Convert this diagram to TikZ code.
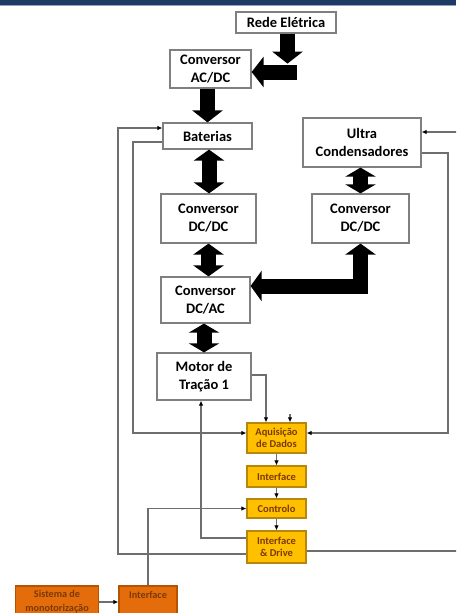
\documentclass[tikz,border=0pt]{standalone}
\usepackage{fontspec}
\setmainfont{Carlito}
\usetikzlibrary{arrows.meta}
\definecolor{band}{HTML}{1F3B63}
\definecolor{bandl}{HTML}{8CA3C4}
\definecolor{boxline}{HTML}{7F7F7F}
\definecolor{yfill}{HTML}{FFC000}
\definecolor{yline}{HTML}{B8860B}
\definecolor{ofill}{HTML}{E46C0A}
\definecolor{oline}{HTML}{B35400}
\definecolor{otext}{HTML}{7A3A05}
\definecolor{sigline}{HTML}{6E6E6E}
\begin{document}
\begin{tikzpicture}[x=1pt,y=-1pt,
  mbox/.style={draw=boxline, line width=1.2pt, fill=white, align=center,
    font=\bfseries\fontsize{14.5}{18}\selectfont, inner sep=0pt},
  ybox/.style={draw=yline, line width=1.2pt, fill=yfill, text=otext, align=center,
    font=\bfseries\fontsize{10.5}{12.5}\selectfont, inner sep=0pt, minimum width=59pt},
  obox/.style={draw=oline, line width=1.2pt, fill=ofill, text=otext, align=center,
    font=\bfseries\fontsize{10.2}{13.5}\selectfont, inner sep=0pt},
  big/.style={line width=15pt, -{Triangle[width=30pt,length=12pt]}},
  bigb/.style={line width=15pt, line join=miter,
    {Triangle[width=30pt,length=11pt]}-{Triangle[width=30pt,length=11pt]}},
  bigs/.style={line width=15pt,
    {Triangle[width=30pt,length=9pt]}-{Triangle[width=30pt,length=9pt]}},
  sig/.style={draw=sigline, line width=1.3pt, -{Latex[length=5pt,width=4.5pt,color=black]}}
]
\useasboundingbox (0,0) rectangle (456,613);
\clip (0,0) rectangle (456,613);
\fill[white] (0,0) rectangle (456,613);
\fill[band] (0,0) rectangle (456,4.5);
\fill[bandl] (0,4.5) rectangle (456,5.5);

% main boxes
\node[mbox, minimum width=100pt, minimum height=21pt] (rede) at (286,22.5) {Rede Elétrica};
\node[mbox, minimum width=81pt, minimum height=38pt] (acdc) at (210.5,69) {Conversor\\AC/DC};
\node[mbox, minimum width=89pt, minimum height=26pt] (bat) at (207.5,136) {Baterias};
\node[mbox, minimum width=118pt, minimum height=49pt] (ultra) at (362,142.5) {Ultra\\Condensadores};
\node[mbox, minimum width=95pt, minimum height=49pt] (dcdcl) at (208.5,218.5) {Conversor\\DC/DC};
\node[mbox, minimum width=97pt, minimum height=49pt] (dcdcr) at (360.5,218.5) {Conversor\\DC/DC};
\node[mbox, minimum width=89pt, minimum height=46pt] (dcac) at (205.5,300) {Conversor\\DC/AC};
\node[mbox, minimum width=94pt, minimum height=47pt] (motor) at (204,376.5) {Motor de\\Tração 1};

% control boxes
\node[ybox, minimum height=30pt] (aq) at (276.5,438) {Aquisição\\de Dados};
\node[ybox, minimum height=21pt] (intf) at (276.5,476.5) {Interface};
\node[ybox, minimum height=19pt] (ctrl) at (276.5,508.5) {Controlo};
\node[ybox, minimum height=32pt] (idrive) at (276.5,547) {Interface\\\& Drive};

\node[obox, minimum width=83pt, minimum height=32pt] (sis) at (57,602) {Sistema de\\monotorização};
\node[obox, minimum width=58pt, minimum height=32pt] (intb) at (148,602) {Interface\\\mbox{}};

% power flow arrows
\draw[big] ([xshift=1.5pt]rede.south) -- ++(0,30);
\coordinate (ra) at (297,72);
\draw[big] (ra) -- (acdc.east |- ra);
\draw[big] (acdc.south -| bat.north) -- (bat.north);
\draw[bigb] ([xshift=1.5pt]bat.south) -- ([xshift=1.5pt]bat.south |- dcdcl.north);
\draw[bigs] (ultra.south -| dcdcr.north) -- (dcdcr.north);
\draw[bigb] (dcdcl.south) -- (dcdcl.south |- dcac.north);
\draw[bigs] (dcac.south -| motor.north) -- (motor.north);
\draw[bigb] (dcdcr.south) |- ([yshift=14pt]dcac.east);

% signal lines
\draw[sig] ([yshift=-7pt]idrive.west) -| (118,128) -- ([yshift=8pt]bat.west);
\draw[sig] ([yshift=-6pt]bat.west) -| (133,433) -- ([yshift=5pt]aq.west);
\draw[sig] ([yshift=-4pt]idrive.east) -| (470,132) -- ([yshift=10.5pt]ultra.east);
\draw[sig] ([yshift=-10.5pt]ultra.east) -| (448,433) -- ([yshift=5pt]aq.east);
\draw[sig] ([yshift=1.5pt]motor.east) -| ([xshift=-10.5pt]aq.north);
\coordinate (stub) at (290,414);
\draw[sig] (stub) -- (stub |- aq.north);
\draw[sig] ([yshift=9pt]idrive.west) -| ([xshift=-3pt]motor.south);
\draw[sig] (aq) -- (intf);
\draw[sig] (intf) -- (ctrl);
\draw[sig] (ctrl) -- (idrive);
\draw[sig] (intb.north) |- (ctrl.west);
\draw[sig] (sis) -- (intb);
\end{tikzpicture}
\end{document}
